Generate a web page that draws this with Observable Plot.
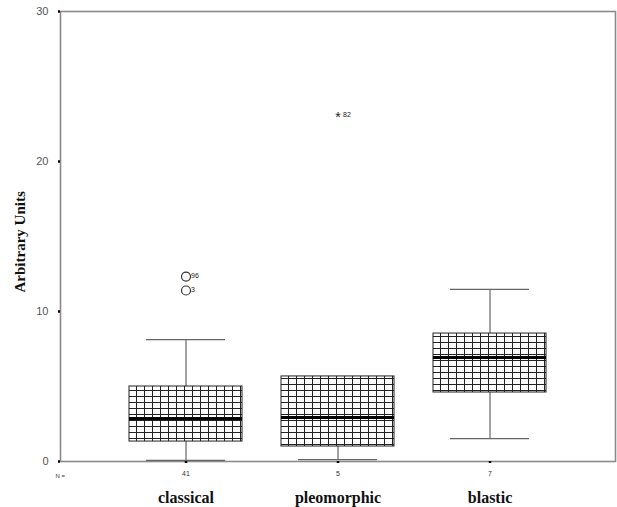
<!DOCTYPE html>
<html>
<head>
<meta charset="utf-8">
<script src="https://cdn.jsdelivr.net/npm/d3@7"></script>
<script src="https://cdn.jsdelivr.net/npm/@observablehq/plot@0.6"></script>
<style>
  body { margin: 0; background: #fff; }
  #chart svg { display: block; }
</style>
</head>
<body>
<div id="chart"></div>
<script>
// Data (boxplot summary per category)
const categories = ["classical", "pleomorphic", "blastic"];
const counts = [41, 5, 7];
const lowWhisker = [0.07, 0.13, 1.53];
const q1 = [1.33, 1.0, 4.6];
const median = [2.87, 2.93, 6.93];
const q3 = [5.0, 5.67, 8.53];
const highWhisker = [8.13, 5.67, 11.47];
// outliers: circles (mild) and asterisks (extreme)
const outlierCat = ["classical", "classical"];
const outlierVal = [12.33, 11.4];
const outlierLabel = ["96", "3"];
const extremeCat = ["pleomorphic"];
const extremeVal = [23.1];
const extremeLabel = ["82"];
const yTicks = [0, 10, 20, 30];

const boxes = categories.map((c, i) => ({
  cat: c, n: counts[i], lo: lowWhisker[i], q1: q1[i], med: median[i], q3: q3[i], hi: highWhisker[i]
}));
const outliers = outlierCat.map((c, i) => ({cat: c, v: outlierVal[i], label: outlierLabel[i]}));
const extremes = extremeCat.map((c, i) => ({cat: c, v: extremeVal[i], label: extremeLabel[i]}));
const countOf = Object.fromEntries(boxes.map(b => [b.cat, b.n]));

const gray = "#8a8a8a";

const svg = Plot.plot({
  width: 617,
  height: 507,
  marginLeft: 60,
  marginRight: 2,
  marginTop: 11,
  marginBottom: 46,
  style: {fontFamily: "Liberation Sans, Arial, sans-serif", background: "#fff"},
  x: {type: "band", domain: categories, paddingInner: 0.257, paddingOuter: 0.454, axis: null, label: null},
  y: {domain: [0, 30], axis: null, label: null},
  marks: [
    Plot.frame({stroke: gray, strokeWidth: 1.6}),
    // whiskers
    Plot.ruleX(boxes, {x: "cat", y1: "q3", y2: "hi", stroke: "#666", strokeWidth: 1.2}),
    Plot.ruleX(boxes, {x: "cat", y1: "lo", y2: "q1", stroke: "#666", strokeWidth: 1.2}),
    // caps
    Plot.tickY(boxes.filter(b => b.hi > b.q3), {x: "cat", y: "hi", stroke: "#666", strokeWidth: 1.2, insetLeft: 17, insetRight: 17}),
    Plot.tickY(boxes, {x: "cat", y: "lo", stroke: "#666", strokeWidth: 1.2, insetLeft: 17, insetRight: 17}),
    // boxes
    Plot.barY(boxes, {x: "cat", y1: "q1", y2: "q3", fill: "url(#grid)", stroke: "#222", strokeWidth: 1}),
    Plot.tickY(boxes, {x: "cat", y: "med", stroke: "#000", strokeWidth: 3}),
    // outliers
    Plot.dot(outliers, {x: "cat", y: "v", r: 4.5, stroke: "#333", strokeWidth: 1.2, fill: "none"}),
    Plot.text(outliers, {x: "cat", y: "v", text: "label", dx: 5, dy: -1, textAnchor: "start", fontSize: 7, fill: "#222"}),
    Plot.text(extremes, {x: "cat", y: "v", text: () => "*", fontSize: 14, fill: "#222", dy: 3}),
    Plot.text(extremes, {x: "cat", y: "v", text: "label", dx: 5, textAnchor: "start", fontSize: 7, fill: "#222"}),
    // y axis
    Plot.axisY({ticks: yTicks, label: null, tickSize: 2, tickPadding: 10, fontSize: 11, color: "#555", stroke: "#000", strokeWidth: 2.5}),
    Plot.text(["Arbitrary Units"], {frameAnchor: "left", rotate: -90, dx: -40, dy: 56, fontSize: 15, fontWeight: "bold", fontFamily: "Liberation Serif, Times New Roman, serif", fill: "#111"}),
    // x axis: counts and names
    Plot.axisX({tickFormat: d => countOf[d], label: null, tickSize: 2, tickPadding: 8, fontSize: 7, color: "#333", stroke: "#000", strokeWidth: 2.5}),
    Plot.text(["N ="], {frameAnchor: "bottom-left", dx: -5, dy: 16, fontSize: 6, fill: "#333"}),
    Plot.text(categories, {x: d => d, y: 0, text: d => d, dy: 36, fontSize: 16, fontWeight: "bold", fontFamily: "Liberation Serif, Times New Roman, serif", fill: "#111"})
  ]
});

// hatch pattern for the boxes
const ns = "http://www.w3.org/2000/svg";
const defs = document.createElementNS(ns, "defs");
defs.innerHTML = `<pattern id="grid" patternUnits="userSpaceOnUse" width="8" height="6">
  <rect width="8" height="6" fill="#fff"/>
  <path d="M0 0.5H8M0.5 0V6" stroke="#222" stroke-width="1" fill="none"/>
</pattern>`;
svg.insertBefore(defs, svg.firstChild);

document.getElementById("chart").appendChild(svg);
</script>
</body>
</html>
